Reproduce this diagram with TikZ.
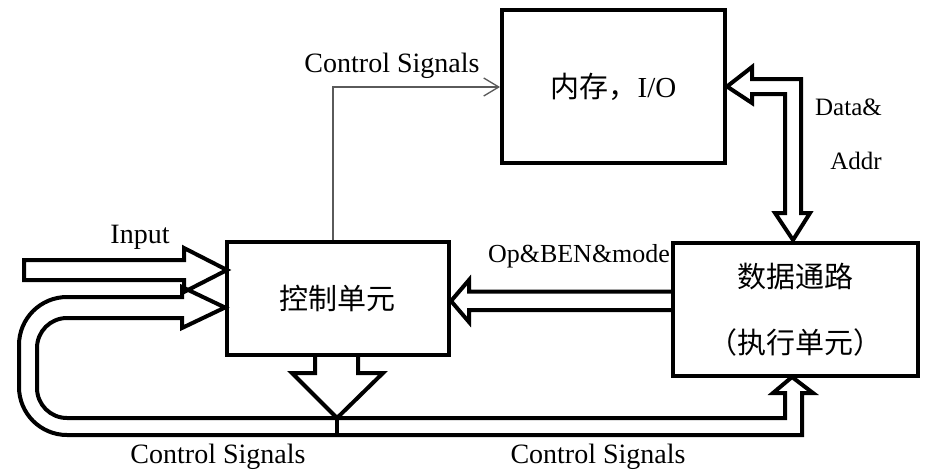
\documentclass[tikz,border=0pt]{standalone}
\usepackage{fontspec}
\setmainfont{Liberation Serif}
\newfontfamily\cjk{Noto Sans CJK SC}
\usetikzlibrary{arrows.meta}
\definecolor{sigcol}{RGB}{90,90,90}
\begin{document}
\begin{tikzpicture}[x=1pt,y=-1pt,
  box/.style={draw, line width=4pt, inner sep=0pt, align=center,
    font=\cjk\fontsize{29}{35}\selectfont},
  hollow/.style={line width=4pt, line join=miter},
  lbl/.style={font=\fontsize{28}{34}\selectfont, inner sep=0pt, anchor=base},
  slbl/.style={font=\fontsize{25}{30}\selectfont, inner sep=0pt, anchor=base east},
  sig/.style={draw=sigcol, line width=1.3pt,
    -{Straight Barb[length=15pt,width=18pt]}}]
\useasboundingbox (0,0) rectangle (926,471);

% boxes
\node[box, minimum width=223pt, minimum height=153pt] (mem) at (613.5,86.5)
  {内存，\rmfamily I/O};
\node[box, minimum width=221.5pt, minimum height=113pt] (cu) at (337.75,298.5)
  {控制单元};
\node[box, minimum width=245pt, minimum height=133pt] (dp) at (795.5,309.5)
  {数据通路\\[31pt]（执行单元）};

% thin control-signal connector
\coordinate (cs) at (333,87);
\draw[sig] (cu.north -| cs) |- (mem.west |- cs);

% Data & Addr double arrow
\draw[hollow] (727,86.5) -- (752,67) -- (752,79) -- (801,79) -- (801,213)
  -- (810,213) -- (793,240) -- (775,213) -- (785,213) -- (785,94)
  -- (752,94) -- (752,103) -- cycle;

% Op&BEN&mode arrow
\draw[hollow] (673,291.5) -- (469,291.5) -- (469,280) -- (451,301)
  -- (469,322) -- (469,310) -- (673,310);

% Input arrow
\draw[hollow] (24,260) -- (184,260) -- (184,248) -- (227,270) -- (184,292)
  -- (184,280) -- (24,280) -- cycle;

% output arrow of control unit
\draw[hollow] (315,355) -- (315,373) -- (292,373) -- (337,418) -- (383,373)
  -- (358,373) -- (358,355);

% control-signal channel (feedback loop + to datapath)
\draw[hollow] (182,287) -- (225,307.5) -- (182,328) -- (182,318)
  -- (67,318) .. controls (50.4,318) and (37,331.4) .. (37,348)
  -- (37,388) .. controls (37,404.6) and (50.4,418) .. (67,418)
  -- (785,418) -- (785,393) -- (773,393) -- (792,377) -- (813,393)
  -- (802,393) -- (802,435)
  -- (67,435) .. controls (40.5,435) and (19,413.5) .. (19,387)
  -- (19,345) .. controls (19,318.5) and (40.5,297) .. (67,297)
  -- (182,297) -- cycle;
\draw[hollow] (337,418) -- (337,435);

% labels
\node[lbl] (lcs) at (392,72) {Control Signals};
\node[lbl] (lin) at (140,243) {Input};
\node[lbl, font=\fontsize{26}{30}\selectfont] (lop) at (579,262) {Op\&BEN\&mode};
\node[slbl] (lda) at (882,115) {Data\&};
\node[slbl] (lad) at (882,169) {Addr};
\node[lbl] (lcs1) at (218,463) {Control Signals};
\node[lbl] (lcs2) at (598,463) {Control Signals};
\end{tikzpicture}
\end{document}
